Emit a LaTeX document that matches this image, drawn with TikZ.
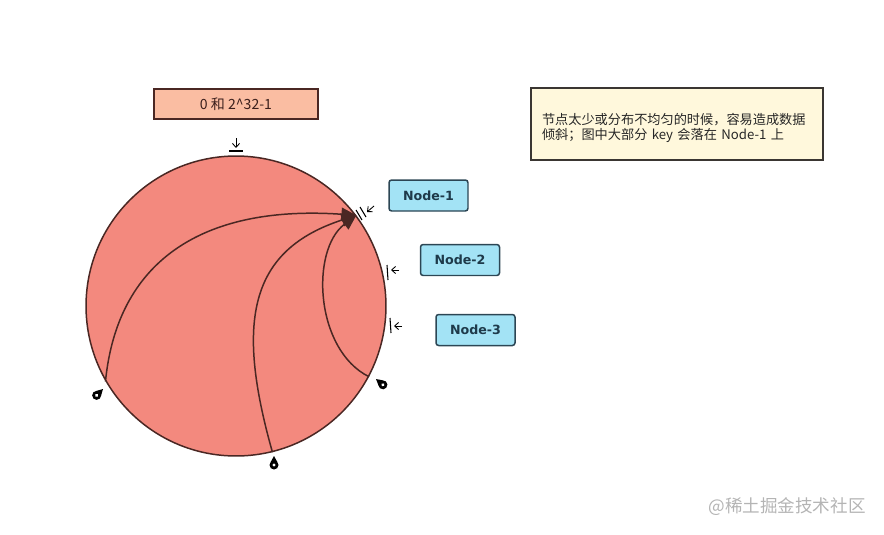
\documentclass[tikz,border=0pt]{standalone}
\usepackage{fontspec}
\usetikzlibrary{arrows.meta,positioning,calc}
\newfontfamily\cjk{Noto Sans CJK SC}
\newfontfamily\boxfont{DejaVu Sans}
\definecolor{ringred}{HTML}{F3897E}
\definecolor{ringline}{HTML}{4A2723}
\definecolor{rangefill}{HTML}{FABDA2}
\definecolor{srvblue}{HTML}{A3E3F5}
\definecolor{srvline}{HTML}{2C4654}
\definecolor{srvtext}{HTML}{1E3A4A}
\definecolor{notefill}{HTML}{FFF8DC}
\definecolor{noteline}{HTML}{3A3632}
\definecolor{wmgray}{HTML}{B4B4B4}

\begin{document}
\begin{tikzpicture}[x=0.02cm,y=-0.02cm,
  ring/.style={circle,draw=ringline,fill=ringred,line width=0.85pt,
               minimum size=6cm,inner sep=0pt},
  srv/.style={rectangle,rounded corners=1.5pt,draw=srvline,fill=srvblue,
              line width=0.85pt,minimum width=1.58cm,minimum height=0.62cm,
              font=\boxfont\fontsize{7.2}{8}\selectfont\bfseries,text=srvtext},
  keyarc/.style={ringline,line width=0.85pt,
                 -{Triangle[length=8.5pt,width=7.5pt]}},
  hitbar/.style={black,line width=0.6pt},
  hitarrow/.style={black,line width=0.5pt,-{Straight Barb[length=2.2pt,width=4pt]}},
  keypin/.pic={
    \fill[black] (0,9) circle (4.5);
    \fill[black] (0,0) -- (-3.3,6) -- (3.3,6) -- cycle;
    \fill[white] (0,9) circle (1.7);
  }
]
\useasboundingbox (0,0) rectangle (884,534);

% Hash ring
\node[ring] (ring) at (236,306) {};

% ---- Range label and top marker ----------------------------
\node[rectangle,draw=ringline,fill=rangefill,line width=0.85pt,
      minimum width=3.28cm,minimum height=0.6cm,
      font=\cjk\fontsize{8}{9}\selectfont,text=ringline!80!black]
  (range) at (236,104) {0 和 2\^{}32-1};
\draw[hitarrow] (236,138) -- (236,148);
\draw[hitbar] (229,151) -- (243,151);

% ---- Server nodes ------------------------------------------
\node[srv] (n1) at (428.5,195.5) {Node-1};
\node[srv] (n2) at (460,260)     {Node-2};
\node[srv] (n3) at (475.5,330)   {Node-3};

% markers on the ring
\draw[hitbar] (356,210) -- (362,220);
\draw[hitbar] (360,207) -- (366,217);
\draw[hitarrow] (374,206) -- (367,212);
\draw[hitbar] (387,265) -- (388,280);
\draw[hitarrow] (399,270) -- (391,270);
\draw[hitbar] (390,318) -- (391,333);
\draw[hitarrow] (402,326) -- (394,326);

% ---- Keys ---------------------------------------------------
\coordinate (k1) at (ring.210);
\coordinate (k2) at (ring.284);
\coordinate (k3) at (ring.332);
\coordinate (hit) at (ring.37);

\pic[rotate=-45] at (103,389) {keypin};
\pic at (274,456) {keypin};
\pic[rotate=50] at (376,379) {keypin};

\draw[keyarc] (k1) .. controls (118,255) and (210,205) .. (hit);
\draw[keyarc] (k2) .. controls (235,320) and (250,250) .. (hit);
\draw[keyarc] (k3) .. controls (315,350) and (310,250) .. (hit);

% ---- Note ---------------------------------------------------
\node[rectangle,draw=noteline,fill=notefill,line width=0.85pt,
      minimum width=5.84cm,minimum height=1.44cm,text width=5.4cm,
      inner xsep=0.22cm,align=left,
      font=\cjk\fontsize{7.5}{8.4}\selectfont,text=black!85]
  (note) at (677,124)
  {\rule{0pt}{11pt}节点太少或分布不均匀的时候，容易造成数据\\
   倾斜；图中大部分 key 会落在 Node-1 上};

% watermark
\node[font=\cjk\fontsize{10}{12}\selectfont,text=wmgray]
  (wm) at (787,507) {@稀土掘金技术社区};

\end{tikzpicture}
\end{document}
